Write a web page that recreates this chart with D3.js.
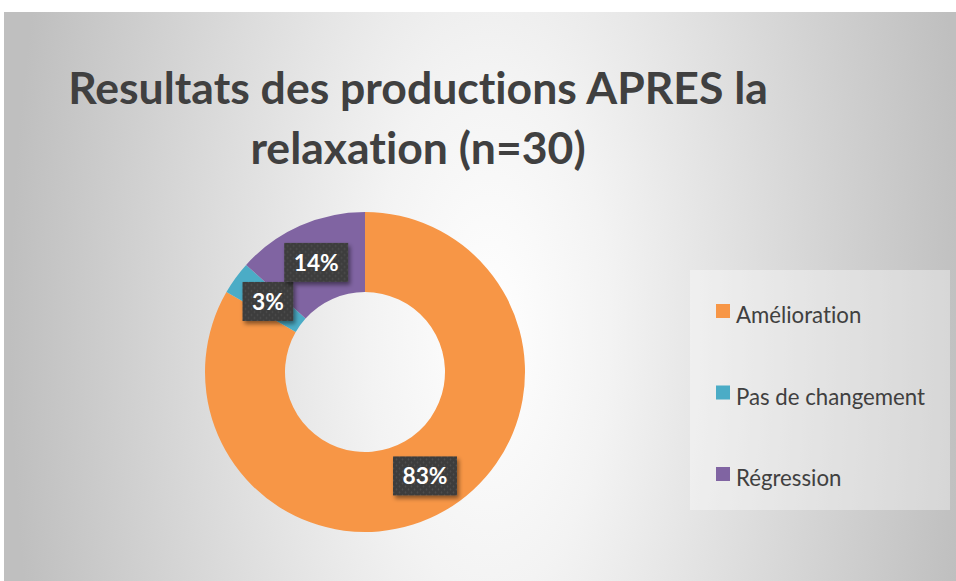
<!DOCTYPE html>
<html>
<head>
<meta charset="utf-8">
<script src="https://cdn.jsdelivr.net/npm/d3@7"></script>
<style>
  body { margin: 0; background: #fff; }
  svg { display: block; }
  text { font-variant-ligatures: none; }
</style>
</head>
<body>
<div id="chart"></div>
<script>
// values (n = 30)
var categories = ['Amélioration', 'Pas de changement', 'Régression'];
var counts = [25, 1, 4];
var pctLabels = ['83%', '3%', '14%'];
var colors = ['#F79646', '#4BACC6', '#8064A2'];
var titleLines = ['Resultats des productions APRES la', 'relaxation (n=30)'];

var w = 956, h = 581;
var font = 'Lato, Open Sans, sans-serif';

var svg = d3.select('#chart')
  .append('svg')
  .attr('width', w)
  .attr('height', h);

var defs = svg.append('defs');

// background gradient, light in the middle, grey to the sides
var bg = defs.append('radialGradient')
  .attr('id', 'bg')
  .attr('gradientUnits', 'userSpaceOnUse')
  .attr('cx', 490).attr('cy', 330).attr('r', 480)
  .attr('gradientTransform', 'translate(490,330) scale(1,2.2) translate(-490,-330)');
bg.append('stop').attr('offset', 0).attr('stop-color', '#ffffff');
bg.append('stop').attr('offset', 0.25).attr('stop-color', '#f3f3f3');
bg.append('stop').attr('offset', 1).attr('stop-color', '#bfbfbf');

// dotted fill for the data label boxes
var pat = defs.append('pattern')
  .attr('id', 'dots')
  .attr('patternUnits', 'userSpaceOnUse')
  .attr('width', 6).attr('height', 6);
pat.append('rect').attr('width', 6).attr('height', 6).attr('fill', '#3d3d3d');
pat.append('circle').attr('cx', 1.5).attr('cy', 1.5).attr('r', 0.9).attr('fill', '#4f4f4f');
pat.append('circle').attr('cx', 4.5).attr('cy', 4.5).attr('r', 0.9).attr('fill', '#4f4f4f');

var shadow = defs.append('filter')
  .attr('id', 'shadow')
  .attr('x', '-30%').attr('y', '-30%')
  .attr('width', '160%').attr('height', '160%');
shadow.append('feDropShadow')
  .attr('dx', 2).attr('dy', 3)
  .attr('stdDeviation', 2)
  .attr('flood-color', '#000')
  .attr('flood-opacity', 0.45);

svg.append('rect')
  .attr('x', 4).attr('y', 12)
  .attr('width', w - 4).attr('height', h - 12)
  .attr('fill', 'url(#bg)');

// scale a text so that it reaches a given width
function fitText(sel, size, target) {
  var len = sel.node().getComputedTextLength();
  return size * target / len;
}

// title, sized so the first line spans the same width as the original
var title = svg.append('text')
  .attr('text-anchor', 'middle')
  .attr('font-family', font)
  .attr('font-weight', 'bold')
  .attr('fill', '#404040')
  .attr('font-size', 40);

title.selectAll('tspan')
  .data(titleLines)
  .enter()
  .append('tspan')
  .attr('x', 418)
  .attr('y', function(d, i) { return 104 + i * 60; })
  .text(function(d) { return d; });

title.attr('font-size', fitText(title.select('tspan'), 40, 700));

// donut
var cx = 365, cy = 372, rOut = 160, rIn = 80;

var pie = d3.pie().sort(null).value(function(d) { return d; });
var arcs = pie(counts);
var arc = d3.arc().innerRadius(rIn).outerRadius(rOut);
var labelArc = d3.arc().innerRadius(120).outerRadius(120);

var g = svg.append('g')
  .attr('transform', 'translate(' + cx + ',' + cy + ')');

g.selectAll('path')
  .data(arcs)
  .enter()
  .append('path')
  .attr('d', arc)
  .attr('fill', function(d, i) { return colors[i]; });

// data labels
var lab = g.selectAll('.lab')
  .data(arcs)
  .enter()
  .append('g')
  .attr('class', 'lab')
  .attr('transform', function(d) {
    var c = labelArc.centroid(d);
    return 'translate(' + c[0] + ',' + c[1] + ')';
  });

lab.append('rect').attr('class', 'box');

var labText = lab.append('text')
  .attr('text-anchor', 'middle')
  .attr('dy', '0.36em')
  .attr('font-family', font)
  .attr('font-weight', 'bold')
  .attr('font-size', 22)
  .attr('fill', '#ffffff')
  .text(function(d, i) { return pctLabels[i]; });

labText.attr('font-size', fitText(labText.filter(function(d, i) { return i === 0; }), 22, 45));

lab.each(function() {
  var gg = d3.select(this);
  var tw = gg.select('text').node().getComputedTextLength();
  var bw = tw + 19, bh = 39;
  gg.select('rect')
    .attr('x', -bw / 2).attr('y', -bh / 2)
    .attr('width', bw).attr('height', bh)
    .attr('fill', 'url(#dots)')
    .attr('filter', 'url(#shadow)');
});

// legend
var legend = svg.append('g').attr('id', 'legend');

legend.append('rect')
  .attr('x', 690).attr('y', 270)
  .attr('width', 260).attr('height', 240)
  .attr('fill', '#ffffff')
  .attr('fill-opacity', 0.35);

var item = legend.selectAll('.item')
  .data(categories)
  .enter()
  .append('g')
  .attr('class', 'item')
  .attr('transform', function(d, i) {
    return 'translate(716,' + (304 + i * 81.5) + ')';
  });

item.append('rect')
  .attr('width', 14).attr('height', 14)
  .attr('fill', function(d, i) { return colors[i]; });

var itemText = item.append('text')
  .attr('x', 20).attr('y', 19)
  .attr('font-family', font)
  .attr('font-size', 20)
  .attr('fill', '#404040')
  .text(function(d) { return d; });

itemText.attr('font-size', fitText(itemText.filter(function(d, i) { return i === 1; }), 20, 189));
</script>
</body>
</html>
